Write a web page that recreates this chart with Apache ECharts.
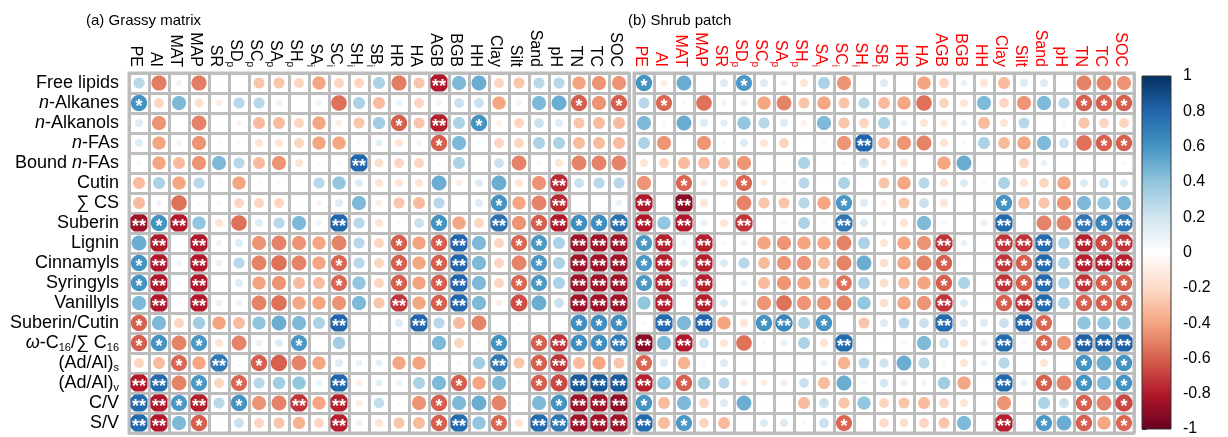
<!DOCTYPE html>
<html>
<head>
<meta charset="utf-8">
<style>
  html, body { margin: 0; padding: 0; background: #fff; }
  #chart { width: 1228px; height: 437px; }
</style>
<script src="https://cdn.jsdelivr.net/npm/echarts@6/dist/echarts.min.js"></script>
</head>
<body>
<div id="chart"></div>
<script>
// Environmental / plant variables (columns) — rich markup gives the subscripts
const colLabels = ['PE','AI','MAT','MAP','SR','SD{s|p}','SC{s|p}','SA{s|p}','SH{s|p}','SA{s|i}','SC{s|i}','SH{s|i}','SB{s|i}',
  'HR','HA','AGB','BGB','HH','Clay','Silt','Sand','pH','TN','TC','SOC'];

// Biomarker indices (rows)
const rowLabels = ['Free lipids','{i|n}-Alkanes','{i|n}-Alkanols','{i|n}-FAs','Bound {i|n}-FAs','Cutin','∑ CS','Suberin',
  'Lignin','Cinnamyls','Syringyls','Vanillyls','Suberin/Cutin','{i|ω}-C{s|16}/∑ C{s|16}','(Ad/Al){s|s}','(Ad/Al){s|v}','C/V','S/V'];

// Colour-bar tick values
const barTicks = [-1, -0.8, -0.6, -0.4, -0.2, 0, 0.2, 0.4, 0.6, 0.8, 1];

// (a) Grassy matrix: correlation coefficients, one array per row
const grassyR = [
  [0.28,-0.52,0.08,-0.52,0.03,0,-0.28,-0.28,-0.22,-0.4,-0.22,-0.22,0.32,-0.52,-0.28,-0.8,0.45,0.5,-0.22,-0.28,0.28,0.28,-0.4,-0.45,-0.45],
  [0.6,-0.22,0.45,-0.18,-0.1,0.28,0.28,0.1,0,0.08,-0.55,0.32,-0.32,0.1,-0.22,-0.08,0.22,0.22,-0.4,-0.08,0.45,0.5,-0.6,-0.45,-0.6],
  [0.15,-0.45,0,-0.5,-0.03,-0.08,-0.32,-0.32,-0.22,-0.4,-0.1,-0.28,0.35,-0.6,-0.28,-0.78,0.32,0.6,-0.08,-0.22,0.22,0.15,-0.28,-0.32,-0.32],
  [0.15,-0.4,0.08,-0.45,0.05,-0.05,-0.15,-0.15,-0.22,-0.4,-0.4,0.05,0.12,-0.15,0.08,-0.6,0.45,0.05,-0.22,-0.22,0.32,0.32,-0.32,-0.32,-0.32],
  [0.05,-0.4,-0.32,-0.45,0.45,0.28,-0.32,-0.45,-0.15,-0.05,0.05,0.8,-0.18,-0.22,-0.22,-0.05,0.32,0,0.22,-0.5,-0.05,-0.15,-0.5,-0.5,-0.5],
  [-0.32,0.32,-0.4,0.28,0.05,-0.4,0.05,0.05,0.03,0.28,0.4,0.15,-0.15,-0.15,-0.15,0.5,-0.1,0.15,0.5,-0.15,-0.45,-0.75,0.22,0.28,0.28],
  [-0.32,0.08,-0.55,0.05,0.05,-0.22,-0.22,-0.22,-0.03,-0.08,0.15,0.45,-0.1,-0.28,-0.32,0.28,0.03,0.15,0.6,-0.4,-0.5,-0.75,0.03,0,0.1],
  [-0.85,0.6,-0.8,0.4,-0.15,-0.55,0.15,0.28,0.45,0.08,0.8,0.28,-0.15,-0.05,0.22,0.6,-0.4,-0.22,0.75,-0.45,-0.6,-0.8,0.62,0.62,0.75],
  [0.5,-0.8,0.03,-0.8,0.08,0.15,-0.45,-0.5,-0.45,-0.4,-0.5,0.28,-0.22,-0.6,-0.4,-0.6,0.8,0.45,-0.22,-0.58,0.58,0.32,-0.85,-0.85,-0.85],
  [0.6,-0.8,0.08,-0.8,0.1,0.28,-0.5,-0.55,-0.5,-0.4,-0.58,0.28,-0.22,-0.6,-0.4,-0.6,0.8,0.45,-0.22,-0.5,0.58,0.32,-0.85,-0.85,-0.85],
  [0.6,-0.8,0.05,-0.8,0.03,0.15,-0.4,-0.45,-0.32,-0.32,-0.58,0.4,-0.22,-0.6,-0.4,-0.6,0.8,0.45,-0.22,-0.58,0.58,0.32,-0.85,-0.85,-0.85],
  [0.45,-0.8,-0.05,-0.8,0.1,0.1,-0.5,-0.55,-0.4,-0.4,-0.45,0.45,-0.28,-0.72,-0.4,-0.6,0.8,0.45,-0.1,-0.65,0.5,0.22,-0.85,-0.85,-0.85],
  [-0.6,0.45,-0.22,0.35,-0.4,-0.32,0.4,0.5,0.45,0.32,0.8,-0.03,-0.04,0.15,0.8,0.28,-0.32,-0.5,0.03,-0.05,0,-0.03,0.62,0.62,0.62],
  [-0.6,0.6,-0.5,0.58,-0.15,-0.5,0.1,0.15,0.58,0,0.35,0.03,-0.04,0.05,-0.05,0.45,-0.22,0.05,0.6,0.03,-0.6,-0.72,0.62,0.62,0.7],
  [-0.22,-0.32,-0.58,-0.4,0.72,0.1,-0.6,-0.6,-0.5,-0.4,0.15,0.1,0.12,-0.4,-0.4,-0.05,0.05,0.35,0.72,-0.28,-0.6,-0.72,-0.32,-0.4,-0.28],
  [-0.8,0.78,-0.5,0.58,-0.22,-0.58,0.28,0.35,0.4,0.1,0.8,-0.1,0.12,0.1,0.32,0.45,-0.6,-0.4,0.45,0.05,-0.6,-0.66,0.85,0.85,0.85],
  [0.78,-0.8,0.58,-0.78,0.28,0.6,-0.45,-0.5,-0.72,-0.4,-0.78,-0.1,0.25,-0.05,-0.45,-0.6,0.45,0.5,-0.5,0.05,0.45,0.6,-0.85,-0.85,-0.88],
  [0.78,-0.8,0.45,-0.6,0.03,0.22,-0.22,-0.28,-0.35,-0.22,-0.78,0.1,-0.15,-0.28,-0.32,-0.6,0.78,0.4,-0.58,-0.15,0.78,0.72,-0.85,-0.85,-0.85]
];
// (a) significance per cell: 0 none, 1 = *, 2 = **
const grassySig = [
  '0000000000000002000000000',
  '1000000000000000000000101',
  '0000000000000102010000000',
  '0000000000000001000000000',
  '0000000000020000000000000',
  '0000000000000000000002000',
  '0000000000000000001002000',
  '2120000000200001002012112',
  '0202000000000101200110222',
  '1202000000100101200010222',
  '1202000000100101200110222',
  '0202000000000201200100222',
  '1000000000200020000000111',
  '1101000010000000001012112',
  '0010211000000000002012000',
  '2201010000200000100011222',
  '2212010020200001000001222',
  '2201000000200001201022222'
];

// (b) Shrub patch: correlation coefficients
const shrubR = [
  [0.6,-0.1,0.5,0.03,0.15,0.58,0.15,0.08,-0.15,0.32,-0.45,-0.03,0.15,0.03,-0.4,-0.22,0.1,-0.15,-0.32,0.15,0.15,0.02,-0.5,-0.5,-0.45],
  [0.28,-0.58,-0.05,-0.55,0.08,0.1,-0.4,-0.5,-0.28,-0.4,-0.28,0.28,-0.32,-0.4,-0.55,-0.22,-0.15,0.45,-0.22,-0.45,0.45,0.28,-0.6,-0.6,-0.6],
  [0.45,0.05,0.5,0.15,0.12,0.4,0.28,0.15,-0.08,0.45,-0.28,-0.22,0.32,0.1,-0.15,-0.12,0.1,-0.32,-0.15,0.28,-0.03,-0.05,-0.28,-0.22,-0.22],
  [0.32,-0.45,0.02,-0.45,0.05,0.15,-0.15,-0.22,-0.03,-0.05,-0.45,0.8,-0.32,-0.45,-0.5,-0.15,0.05,0.32,-0.32,-0.4,0.45,0.22,-0.55,-0.6,-0.6],
  [-0.15,-0.22,-0.32,-0.32,-0.32,-0.45,-0.03,-0.03,0.32,0.02,0.05,0.22,-0.1,-0.15,0,-0.4,0.5,0.02,-0.03,-0.22,0.1,0.02,-0.03,-0.03,-0.05],
  [-0.45,0,-0.58,-0.1,-0.15,-0.58,-0.1,-0.05,0.28,-0.03,0.32,0.03,-0.28,-0.4,0.28,-0.15,0.15,-0.05,0.32,-0.15,-0.22,-0.4,0.15,0.22,0.15],
  [-0.8,0,-0.9,-0.15,0,-0.5,-0.28,-0.28,0.28,-0.4,0.58,0.15,-0.08,-0.28,0.22,-0.15,0.02,0.03,0.6,-0.32,-0.28,-0.45,0.45,0.4,0.45],
  [-0.8,0.4,-0.8,0.1,-0.15,-0.72,0.02,0.05,0.32,-0.05,0.72,0.15,-0.08,-0.15,0.45,0.05,0,0.1,0.78,0,-0.5,-0.5,0.72,0.66,0.72],
  [0.58,-0.78,0.08,-0.78,0.05,0.08,-0.4,-0.45,-0.4,-0.4,-0.5,0.32,-0.15,-0.4,-0.45,-0.72,0.1,0.02,-0.72,-0.72,0.78,0.32,-0.78,-0.66,-0.72],
  [0.58,-0.78,0.15,-0.78,0.15,0.28,-0.32,-0.45,-0.45,-0.32,-0.5,0.5,-0.18,-0.4,-0.5,-0.6,0.02,0.03,-0.72,-0.6,0.78,0.32,-0.78,-0.78,-0.78],
  [0.58,-0.78,0.15,-0.78,0.02,0.1,-0.32,-0.45,-0.4,-0.28,-0.55,0.32,-0.18,-0.32,-0.4,-0.6,0.32,0.03,-0.72,-0.6,0.78,0.32,-0.72,-0.6,-0.6],
  [0.4,-0.78,0.02,-0.78,0.15,0.1,-0.45,-0.55,-0.45,-0.45,-0.5,0.4,-0.18,-0.4,-0.45,-0.72,0.15,0.02,-0.6,-0.72,0.78,0.32,-0.6,-0.6,-0.6],
  [0.05,0.78,0.45,0.8,-0.4,-0.15,0.6,0.66,0.32,0.6,0.02,-0.28,0.15,0.28,0.22,0.78,0.15,0.15,0.22,0.8,-0.58,0.02,0.4,0.4,0.4],
  [-0.9,0.45,-0.8,0.22,-0.15,-0.55,0.05,0.1,0.32,-0.15,0.78,0.03,0.03,0.05,0.45,0.22,-0.15,0.1,0.78,0.05,-0.58,-0.45,0.82,0.82,0.82],
  [-0.58,0.15,-0.35,0.05,0.15,-0.03,0.02,0.03,-0.03,0.1,-0.35,0.28,0.2,0.5,0.28,-0.05,-0.15,0.1,0.28,0.03,-0.15,0.02,0.6,0.5,0.6],
  [-0.78,0.4,-0.6,0.35,0.28,-0.1,-0.1,-0.1,0.22,-0.32,0.5,0.05,0.18,0.1,0.08,0.35,-0.4,0.02,0.78,0.1,-0.6,-0.5,0.6,0.45,0.6],
  [0.6,-0.32,0.45,-0.22,0.15,0.5,0.02,-0.03,-0.32,0.22,-0.28,0.4,-0.22,-0.28,-0.32,-0.22,-0.15,0.02,-0.45,0.02,0.32,0.22,-0.6,-0.5,-0.66],
  [0.78,-0.32,0.58,-0.22,-0.32,0.03,0.15,0.15,-0.05,0.22,-0.58,0,-0.2,-0.18,-0.22,-0.28,0.45,0.03,-0.78,0.03,0.58,0.5,-0.6,-0.4,-0.58]
];
// (b) significance per cell
const shrubSig = [
  '1000010000000000000000000',
  '0100000000000000000000111',
  '0000000000000000000000000',
  '0000000000020000000000011',
  '0000000000000000000000000',
  '0010010000000000000000000',
  '2020000000100000001000000',
  '2020020000200000002000212',
  '1202000000000002002220212',
  '1202000000000001002120222',
  '1202000000100001002120211',
  '0202000000000002001220111',
  '0202001201000002000210000',
  '2020000000200000002010222',
  '1000000000000000000000101',
  '2010000000000000002010101',
  '1000000000000000000000101',
  '2010000000100000002010101'
];

// Diverging red-blue palette from -1 to 1
const palette = ['#67001F','#B2182B','#D6604D','#F4A582','#FDDBC7','#FFFFFF','#D1E5F0','#92C5DE','#4393C3','#2166AC','#053061'];

const FONT = '"Liberation Sans", Arial, Helvetica, sans-serif';
const GRID_LINE = '#bdbdbd';

function toCells(R, S) {
  const out = [];
  R.forEach((row, i) => row.forEach((v, j) => out.push([j, i, v, +S[i][j]])));
  return out;
}

// Circle whose area follows |r|, trimmed to the cell interior, plus significance stars
function renderCell(params, api) {
  const r = api.value(2);
  const sig = api.value(3);
  const c = api.coord([api.value(0), api.value(1)]);
  const sz = api.size([1, 1]);
  const cell = Math.min(sz[0], sz[1]);
  const children = [];
  if (Math.abs(r) > 0.005) {
    const rad = 0.5 * cell * 1.05 * Math.sqrt(Math.abs(r));
    const lim = cell / 2 - 1.5;
    const pts = [];
    for (let k = 0; k < 60; k++) {
      const a = k / 60 * Math.PI * 2;
      const dx = Math.max(-lim, Math.min(lim, rad * Math.cos(a)));
      const dy = Math.max(-lim, Math.min(lim, rad * Math.sin(a)));
      pts.push([c[0] + dx, c[1] + dy]);
    }
    children.push({ type: 'polygon', shape: { points: pts }, style: { fill: api.visual('color') } });
  }
  if (sig > 0) {
    const fs = 18;
    children.push({
      type: 'text', x: c[0], y: c[1] + fs * 0.24,
      style: { text: '*'.repeat(sig), fill: '#fff', font: 'bold ' + fs + 'px ' + FONT, align: 'center', verticalAlign: 'middle' }
    });
  }
  return { type: 'group', children };
}

function xAxisFor(gridIndex, color) {
  return {
    type: 'category', gridIndex, data: colLabels, position: 'top', boundaryGap: true,
    axisLine: { show: false }, axisTick: { show: false },
    splitLine: { show: true, interval: 0, lineStyle: { color: GRID_LINE, width: 3 } },
    axisLabel: {
      rotate: 90, interval: 0, margin: 6, fontSize: 16, fontFamily: FONT, color, lineHeight: 20,
      padding: [8, 0, 0, 0],
      rich: { s: { fontSize: 10, fontFamily: FONT, color, lineHeight: 10, verticalAlign: 'bottom' } }
    }
  };
}

function yAxisFor(gridIndex, showLabels) {
  return {
    type: 'category', gridIndex, data: rowLabels, inverse: true, boundaryGap: true,
    axisLine: { show: false }, axisTick: { show: false },
    splitLine: { show: true, interval: 0, lineStyle: { color: GRID_LINE, width: 3 } },
    axisLabel: {
      show: showLabels, interval: 0, margin: 10, fontSize: 18, fontFamily: FONT, color: '#000', lineHeight: 20,
      rich: {
        i: { fontStyle: 'italic', fontSize: 18, fontFamily: FONT, color: '#000', lineHeight: 20 },
        s: { fontSize: 11, fontFamily: FONT, color: '#000', lineHeight: 10, verticalAlign: 'bottom' }
      }
    }
  };
}

const gridBox = { show: true, borderColor: GRID_LINE, borderWidth: 3, backgroundColor: '#fff' };

const option = {
  animation: false,
  backgroundColor: '#fff',
  title: [
    { text: '(a) Grassy matrix', left: 81, top: 8, textStyle: { fontSize: 15, fontWeight: 'normal', fontFamily: FONT, color: '#000' } },
    { text: '(b) Shrub patch', left: 623, top: 8, textStyle: { fontSize: 15, fontWeight: 'normal', fontFamily: FONT, color: '#000' } }
  ],
  grid: [
    Object.assign({ left: 129, top: 73, width: 500, height: 360 }, gridBox),
    Object.assign({ left: 634, top: 73, width: 500, height: 360 }, gridBox),
    { left: 1142, top: 76, width: 29, height: 357 }
  ],
  xAxis: [
    xAxisFor(0, '#000'),
    xAxisFor(1, '#ff0000'),
    { type: 'value', gridIndex: 2, min: 0, max: 1, show: false }
  ],
  yAxis: [
    yAxisFor(0, true),
    yAxisFor(1, false),
    {
      type: 'value', gridIndex: 2, position: 'right', min: barTicks[0], max: barTicks[barTicks.length - 1], interval: 0.2,
      axisLine: { show: false }, splitLine: { show: false },
      axisTick: { show: true, length: 5, lineStyle: { color: '#333', width: 1 } },
      axisLabel: { margin: 12, fontSize: 16, fontFamily: FONT, color: '#000', formatter: v => String(Number(v.toFixed(1))) }
    }
  ],
  visualMap: {
    type: 'continuous', show: false, min: -1, max: 1, dimension: 2, seriesIndex: [0, 1],
    inRange: { color: palette }
  },
  series: [
    { type: 'custom', xAxisIndex: 0, yAxisIndex: 0, data: toCells(grassyR, grassySig), renderItem: renderCell, encode: { x: 0, y: 1 } },
    { type: 'custom', xAxisIndex: 1, yAxisIndex: 1, data: toCells(shrubR, shrubSig), renderItem: renderCell, encode: { x: 0, y: 1 } },
    {
      type: 'custom', xAxisIndex: 2, yAxisIndex: 2, data: [[0, 0]], silent: true,
      renderItem: (params, api) => {
        const tl = api.coord([0, barTicks[barTicks.length - 1]]);
        const br = api.coord([1, barTicks[0]]);
        const stops = palette.map((col, k) => ({ offset: k / (palette.length - 1), color: col }));
        return {
          type: 'rect',
          shape: { x: tl[0], y: tl[1], width: br[0] - tl[0], height: br[1] - tl[1] },
          style: { fill: new echarts.graphic.LinearGradient(0, 1, 0, 0, stops), stroke: '#333', lineWidth: 1 }
        };
      }
    }
  ]
};

const chart = echarts.init(document.getElementById('chart'), null, { renderer: 'canvas' });
chart.setOption(option);
</script>
</body>
</html>
